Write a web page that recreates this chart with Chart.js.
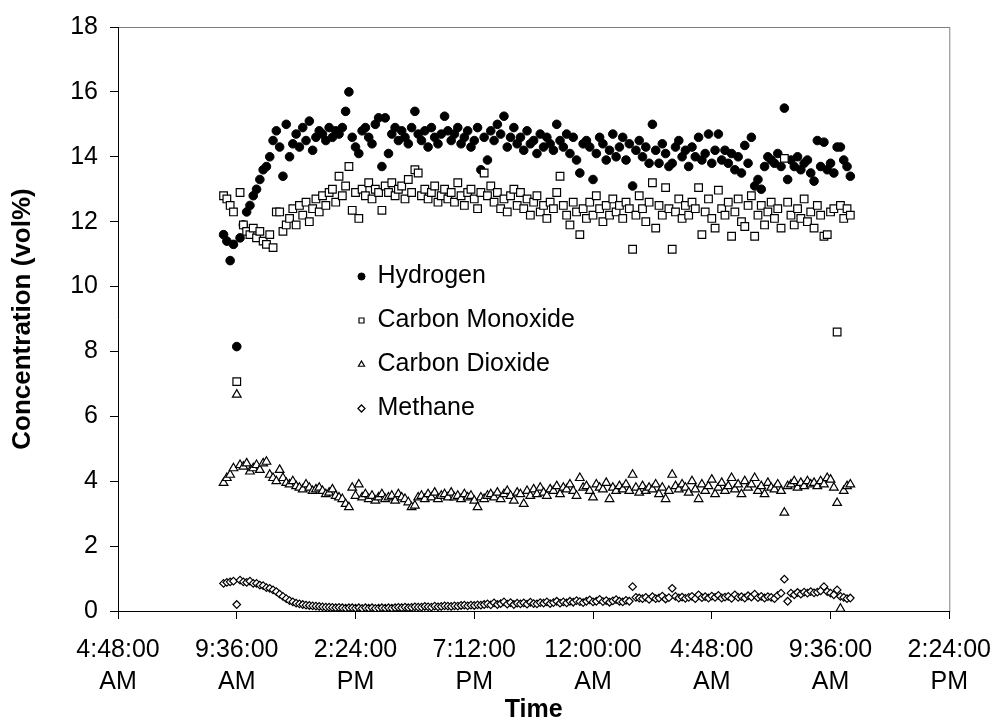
<!DOCTYPE html>
<html>
<head>
<meta charset="utf-8">
<title>Gas concentration</title>
<script src="https://cdn.jsdelivr.net/npm/chart.js@4"></script>
<style>
    body { margin: 0; background: #fff; }
    canvas { display: block; }
</style>
</head>
<body>
<canvas id="chart-1" width="1006" height="723"></canvas>
<script>
// logger samples, one every 8 minutes from 9:04 AM
const startMinute = 544;
const stepMinutes = 8;

const seriesNames = ['Hydrogen', 'Carbon Monoxide', 'Carbon Dioxide', 'Methane'];

const hydrogen = [
    11.6, 11.4, 10.8, 11.3, 8.15, 11.5, 11.9, 12.3, 12.5, 12.8,
    13.0, 13.3, 13.6, 13.7, 14.0, 14.5, 14.8, 14.3, 13.4, 15.0,
    14.0, 14.4, 14.7, 14.3, 14.9, 14.5, 15.1, 14.2, 14.6, 14.8,
    14.7, 14.5, 14.9, 14.6, 14.8, 14.7, 14.9, 15.4, 16.0, 14.6,
    14.3, 14.1, 14.8, 14.9, 14.6, 14.4, 15.0, 15.2, 13.7, 15.2,
    14.1, 14.7, 14.9, 14.5, 14.8, 14.6, 14.4, 14.9, 15.4, 14.7,
    14.5, 14.8, 14.3, 14.9, 14.6, 14.4, 14.7, 15.25, 14.8, 14.5,
    14.7, 14.9, 14.4, 14.6, 14.8, 14.3, 14.5, 14.9, 13.6, 14.6,
    13.9, 14.8, 14.5, 15.0, 14.7, 15.25, 14.3, 14.6, 14.9, 14.4,
    14.6, 14.2, 14.8, 14.4, 14.5, 14.1, 14.7, 14.3, 14.6, 14.4,
    14.2, 15.0, 14.5, 14.3, 14.7, 14.1, 14.6, 13.9, 13.5, 14.4,
    14.5, 14.3, 13.3, 14.1, 14.6, 14.4, 13.9, 14.2, 14.7, 14.0,
    14.3, 14.6, 13.9, 14.4, 13.1, 14.2, 14.5, 14.0, 14.3, 13.8,
    15.0, 14.2, 13.8, 14.4, 14.1, 13.7, 13.8, 14.3, 14.5, 14.0,
    14.2, 13.7, 14.3, 14.0, 14.6, 13.9, 14.1, 14.7, 13.8, 14.2,
    14.7, 13.9, 14.2, 13.8, 14.1, 13.6, 14.0, 13.5, 14.35, 13.8,
    14.6, 13.1, 13.3, 13.0, 13.7, 14.0, 13.9, 13.8, 14.1, 13.7,
    15.5, 13.3, 13.9, 13.7, 14.0, 13.6, 13.8, 13.9, 13.5, 13.25,
    14.5, 13.7, 14.45, 13.6, 13.8, 13.5, 14.3, 14.3, 13.9, 13.7,
    13.4
];

const carbonMonoxide = [
    12.8, 12.7, 12.5, 12.3, 7.07, 12.9, 11.9, 11.7, 11.6, 11.8,
    11.5, 11.7, 11.4, 11.3, 11.6, 11.2, 12.3, 12.3, 11.7, 11.9,
    12.1, 12.4, 11.9, 12.5, 12.2, 12.6, 12.0, 12.4, 12.7, 12.3,
    12.8, 12.5, 12.9, 13.0, 12.6, 13.4, 12.8, 13.1, 13.7, 12.35,
    12.9, 12.1, 13.0, 12.8, 13.2, 12.7, 13.0, 12.9, 12.35, 13.1,
    12.9, 13.2, 12.8, 13.0, 13.1, 12.7, 13.3, 12.9, 13.6, 13.5,
    12.8, 13.0, 12.7, 12.9, 13.1, 12.6, 12.8, 13.0, 12.7, 12.9,
    12.6, 13.2, 12.8, 12.5, 12.9, 13.0, 12.7, 12.4, 12.9, 13.5,
    12.8, 13.1, 12.6, 12.9, 12.4, 12.7, 12.3, 12.8, 13.0, 12.5,
    12.9, 12.4, 12.7, 12.2, 12.6, 12.8, 12.3, 12.5, 12.1, 12.6,
    12.4, 12.9, 13.4, 12.5, 12.2, 11.9, 12.6, 12.3, 11.6, 12.4,
    12.1, 12.6, 12.2, 12.8, 12.4, 12.0, 12.5, 12.2, 12.7, 12.3,
    12.5, 12.1, 12.6, 12.4, 11.15, 12.2, 12.8, 12.4, 12.0, 12.6,
    13.2, 11.8, 12.5, 12.2, 13.05, 12.4, 11.15, 12.3, 12.7, 12.1,
    12.5, 12.2, 12.6, 12.4, 13.05, 11.6, 12.3, 12.7, 12.1, 11.8,
    12.97, 12.4, 12.2, 12.6, 11.55, 12.3, 12.7, 12.0, 11.85, 12.5,
    12.8, 11.55, 12.2, 12.5, 11.9, 12.3, 12.6, 12.1, 12.4, 11.8,
    13.95, 12.6, 12.2, 11.9, 12.4, 12.1, 12.7, 12.0, 12.3, 11.8,
    12.5, 12.2, 11.55, 11.6, 12.3, 12.4, 8.6, 12.5, 12.1, 12.4,
    12.2
];

const carbonDioxide = [
    3.95, 4.1, 4.2, 4.4, 6.67, 4.5, 4.45, 4.55, 4.3, 4.4,
    4.5, 4.35, 4.55, 4.6, 4.2, 4.1, 4.0, 4.35, 4.1, 3.95,
    3.9, 4.0, 3.85, 3.8, 3.75, 3.9, 3.8, 3.7, 3.75, 3.8,
    3.7, 3.6, 3.65, 3.75, 3.55, 3.5, 3.45, 3.3, 3.2, 3.8,
    3.55, 3.9, 3.5, 3.6, 3.45, 3.55, 3.4, 3.5, 3.6, 3.45,
    3.5, 3.55, 3.4, 3.6, 3.5, 3.45, 3.35, 3.2, 3.25, 3.5,
    3.55, 3.45, 3.6, 3.5, 3.65, 3.45, 3.55, 3.6, 3.5, 3.65,
    3.5, 3.55, 3.45, 3.6, 3.5, 3.55, 3.4, 3.2, 3.5, 3.45,
    3.55, 3.6, 3.5, 3.65, 3.45, 3.6, 3.7, 3.55, 3.4, 3.65,
    3.6, 3.3, 3.7, 3.55, 3.75, 3.6, 3.8, 3.65, 3.55, 3.75,
    3.7, 3.85, 3.6, 3.8, 3.75, 3.9, 3.7, 3.55, 4.1, 3.8,
    3.85, 3.7, 3.5, 3.9, 3.8, 3.75, 3.95, 3.45, 3.8, 3.7,
    3.85, 3.75, 3.9, 3.7, 4.2, 3.8, 3.65, 3.85, 3.7, 3.8,
    3.75, 3.9, 3.6, 3.8, 3.45, 3.7, 4.2, 3.85, 3.75, 3.9,
    3.8, 3.65, 4.0, 3.75, 3.45, 3.9, 3.7, 3.85, 4.05, 3.6,
    3.8, 3.95, 3.7, 3.85, 4.1, 3.75, 3.9, 3.6, 4.0, 3.8,
    3.9, 4.1, 3.7, 3.85, 3.6, 3.95, 3.8, 3.75, 3.9, 3.7,
    3.03, 3.85, 3.9, 4.0, 3.8, 3.95, 3.85, 4.0, 3.9, 3.95,
    3.85, 4.0, 3.9, 4.1, 4.05, 3.8, 3.33, 0.07, 3.7, 3.85,
    3.9
];

const methane = [
    0.85, 0.88, 0.9, 0.92, 0.2, 0.95, 0.9, 0.88, 0.92, 0.85,
    0.85, 0.8, 0.78, 0.72, 0.7, 0.65, 0.6, 0.52, 0.45, 0.38,
    0.32, 0.28, 0.24, 0.22, 0.2, 0.18, 0.17, 0.16, 0.15, 0.14,
    0.13, 0.12, 0.12, 0.11, 0.1, 0.11, 0.1, 0.09, 0.1, 0.1,
    0.09, 0.1, 0.08, 0.1, 0.09, 0.1, 0.08, 0.09, 0.1, 0.09,
    0.1, 0.09, 0.1, 0.11, 0.1, 0.12, 0.1, 0.11, 0.13, 0.12,
    0.12, 0.14, 0.13, 0.12, 0.15, 0.13, 0.14, 0.16, 0.15, 0.14,
    0.16, 0.15, 0.17, 0.18, 0.16, 0.18, 0.17, 0.19, 0.18, 0.2,
    0.22, 0.19, 0.25, 0.2, 0.23, 0.28, 0.21, 0.26, 0.2, 0.24,
    0.22, 0.25, 0.21, 0.27, 0.23, 0.22, 0.26, 0.24, 0.28, 0.23,
    0.26, 0.3, 0.24, 0.28, 0.25, 0.3, 0.27, 0.32, 0.29, 0.26,
    0.3, 0.34, 0.28, 0.3, 0.36, 0.29, 0.32, 0.27, 0.31, 0.35,
    0.3, 0.28, 0.33, 0.3, 0.75, 0.42, 0.4, 0.38, 0.42, 0.36,
    0.44, 0.38, 0.4, 0.46, 0.37, 0.41, 0.7, 0.45, 0.4, 0.43,
    0.39, 0.42, 0.45, 0.38, 0.5, 0.41, 0.44, 0.4, 0.46, 0.42,
    0.48, 0.4, 0.43, 0.45, 0.39, 0.5, 0.42, 0.44, 0.4, 0.47,
    0.43, 0.52, 0.41, 0.45, 0.4, 0.44, 0.42, 0.38, 0.48, 0.55,
    0.98, 0.3, 0.55, 0.5, 0.57, 0.52, 0.58, 0.55, 0.6, 0.56,
    0.58, 0.62, 0.75, 0.6, 0.55, 0.5, 0.65, 0.45, 0.42, 0.38,
    0.4
];

// x axis runs 4:48 AM to 2:24 PM next day, in minutes after midnight
const xMin = 288;
const xMax = 2304;
const xStep = 288;
const yTicks = [0, 2, 4, 6, 8, 10, 12, 14, 16, 18];

const toPoints = values => values.map((v, i) => ({ x: startMinute + i * stepMinutes, y: v }));

const timeLabel = minutes => {
    const m = ((minutes % 1440) + 1440) % 1440;
    const h24 = Math.floor(m / 60);
    const mm = String(m % 60).padStart(2, '0');
    const h12 = h24 % 12 || 12;
    return [`${h12}:${mm}:00`, h24 < 12 ? 'AM' : 'PM'];
};

Chart.defaults.font.family = 'Arial, "Liberation Sans", sans-serif';
Chart.defaults.color = '#000';

// gray frame on top/right, legend moved into the plot
const framePlugin = {
    id: 'frame',
    beforeDraw(chart) {
        const { ctx, chartArea: a } = chart;
        ctx.save();
        ctx.strokeStyle = '#808080';
        ctx.lineWidth = 1;
        ctx.strokeRect(a.left + 0.5, a.top + 0.5, a.right - a.left, a.bottom - a.top);
        ctx.restore();
    },
    afterLayout(chart) {
        const lg = chart.legend;
        const w = lg.width, h = lg.height;
        lg.left = 339;
        lg.top = 245;
        lg.right = lg.left + w;
        lg.bottom = lg.top + h;
    }
};

const ctx1 = document.getElementById('chart-1');
const data1 = {
    type: 'scatter',
    data: {
        datasets: [{
            label: seriesNames[0],
            data: toPoints(hydrogen),
            pointStyle: 'circle',
            pointRadius: 4.3,
            pointBackgroundColor: '#000',
            pointBorderColor: '#000',
            pointBorderWidth: 1,
            order: 4
        }, {
            label: seriesNames[1],
            data: toPoints(carbonMonoxide),
            pointStyle: 'rect',
            pointRadius: 5.4,
            pointBackgroundColor: '#fff',
            pointBorderColor: '#000',
            pointBorderWidth: 1.2,
            order: 3
        }, {
            label: seriesNames[2],
            data: toPoints(carbonDioxide),
            pointStyle: 'triangle',
            pointRadius: 5,
            pointBackgroundColor: '#fff',
            pointBorderColor: '#000',
            pointBorderWidth: 1.2,
            order: 2
        }, {
            label: seriesNames[3],
            data: toPoints(methane),
            pointStyle: 'rectRot',
            pointRadius: 3.8,
            pointBackgroundColor: '#fff',
            pointBorderColor: '#000',
            pointBorderWidth: 1.2,
            order: 1
        }]
    },
    options: {
        responsive: false,
        animation: false,
        devicePixelRatio: 1,
        layout: {
            padding: { top: 23, right: 47, left: 0, bottom: 0 }
        },
        scales: {
            x: {
                type: 'linear',
                min: xMin,
                max: xMax,
                afterFit: s => { s.height = 112; },
                ticks: {
                    stepSize: xStep,
                    autoSkip: false,
                    maxRotation: 0,
                    padding: 15,
                    font: { size: 25, lineHeight: 1.28 },
                    callback: v => timeLabel(v)
                },
                grid: { drawOnChartArea: false, drawTicks: true, tickLength: 8, color: '#000' },
                border: { display: true, color: '#000', width: 1 },
                title: {
                    display: true,
                    text: 'Time',
                    font: { size: 25, weight: 'bold', lineHeight: 1 },
                    padding: { top: 0, bottom: 0 }
                }
            },
            y: {
                min: yTicks[0],
                max: yTicks[yTicks.length - 1],
                afterFit: s => { s.width = 118; },
                afterBuildTicks: s => { s.ticks = yTicks.map(v => ({ value: v })); },
                ticks: {
                    padding: 12,
                    font: { size: 25 }
                },
                grid: { drawOnChartArea: false, drawTicks: true, tickLength: 8, color: '#000' },
                border: { display: true, color: '#000', width: 1 },
                title: {
                    display: true,
                    text: 'Concentration (vol%)',
                    font: { size: 26, weight: 'bold', lineHeight: 1.2 },
                    padding: { top: 7, bottom: 0 }
                }
            }
        },
        plugins: {
            legend: {
                position: 'chartArea',
                align: 'start',
                labels: {
                    usePointStyle: true,
                    boxWidth: 7,
                    boxHeight: 5,
                    padding: 19,
                    color: '#000',
                    font: { size: 25 },
                    sort: (a, b) => a.datasetIndex - b.datasetIndex
                }
            },
            tooltip: { enabled: false }
        }
    },
    plugins: [framePlugin]
}
const chart1 = new Chart(ctx1, data1);
</script>
</body>
</html>
